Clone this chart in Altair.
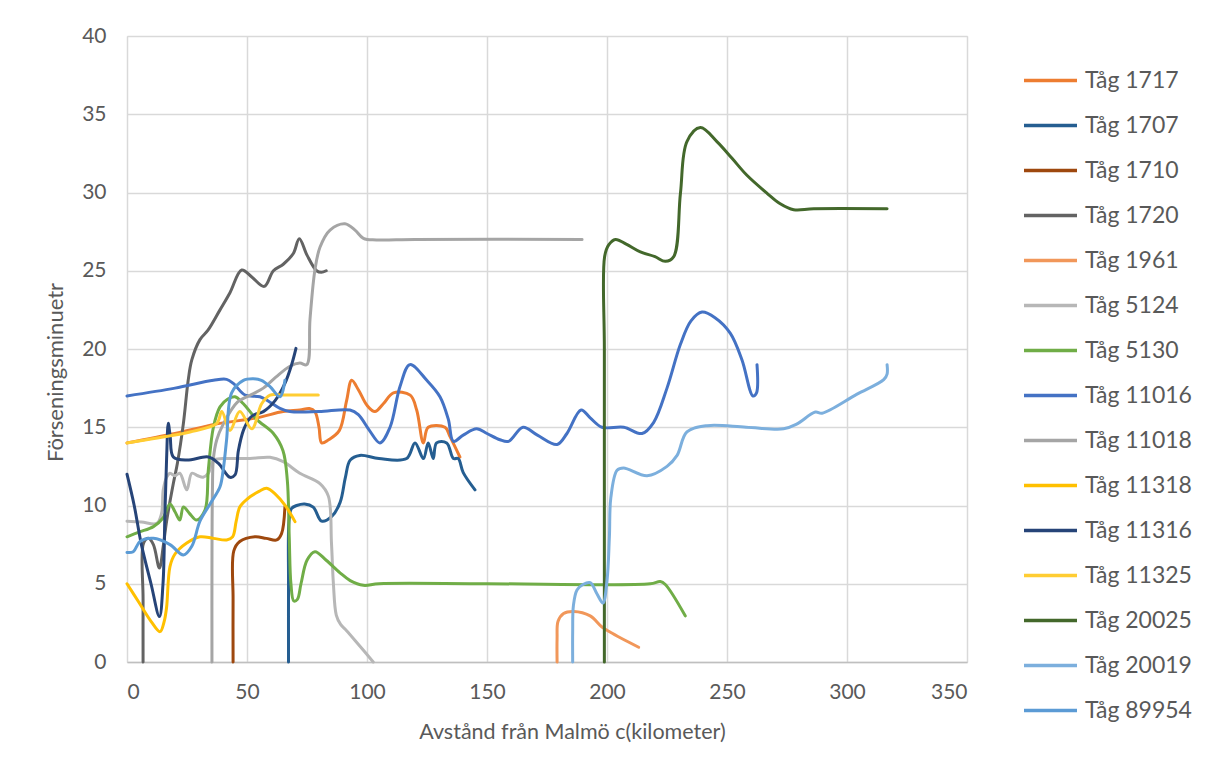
import altair as alt
import pandas as pd

# ---------------- data ----------------
series_names = ["\u00a0\u00a0Tåg 1717", "Tåg 1707", "Tåg 1710", "Tåg 1720", "Tåg 1961",
                "Tåg 5124", "Tåg 5130", "Tåg 11016", "Tåg 11018", "\u00a0\u00a0Tåg 11318",
                "Tåg 11316", "Tåg 11325", "Tåg 20025", "Tåg 20019", "Tåg 89954"]
series_colors = ["#ED7D31", "#255E91", "#9E480E", "#636363", "#F1975A",
                 "#B7B7B7", "#70AD47", "#4472C4", "#A5A5A5", "#FFC000",
                 "#264478", "#FFCD33", "#43682B", "#7CAFDD", "#5B9BD5"]

x_1717 = [0, 20, 37, 54, 65, 72, 76, 78.3, 80, 81.1, 84, 88.5, 91.5, 93.6, 96.4, 100, 103.3, 106.8, 111, 118, 120.7, 123.5, 125.5, 132.5, 134.6, 138.7]
y_1717 = [14.0, 14.6, 15.2, 15.6, 16.0, 16.1, 16.2, 16.0, 15.0, 14.0, 14.2, 14.8, 16.7, 18.0, 17.4, 16.4, 16.0, 16.5, 17.2, 17.05, 16.1, 14.0, 15.0, 15.0, 14.4, 13.1]

x_1707 = [67.3, 67.3, 67.5, 68.5, 70.7, 74, 77.6, 81.1, 85.3, 88.8, 91, 93, 97, 105, 116.5, 120, 123.5, 125.5, 127.6, 129, 133.2, 136, 138, 140.1, 145]
y_1707 = [0, 5, 9.0, 9.8, 10.0, 10.1, 9.9, 9.0, 9.3, 10.2, 11.8, 12.9, 13.2, 13.0, 13.0, 14.0, 13.0, 14.0, 13.0, 14.0, 14.0, 13.0, 13.0, 12.1, 11.0]

x_1710 = [44.2, 44.2, 44.5, 47, 53.3, 58, 62.4, 64.4, 65.8]
y_1710 = [0, 4, 7.1, 7.7, 8.0, 7.9, 7.8, 8.2, 9.9]

x_1720 = [6.7, 6.7, 6.9, 8.9, 11, 13.5, 15.1, 16.5, 19.3, 21, 23.5, 25.5, 27, 30.4, 33.75, 38.75, 42.9, 47.8, 52, 57.2, 61, 65, 69.3, 71.8, 75, 79, 81, 83]
y_1720 = [0, 4, 7.6, 7.9, 7.5, 6.0, 7.4, 9.0, 11.4, 12.7, 15.25, 18.0, 19.3, 20.6, 21.2, 22.5, 23.6, 25.05, 24.6, 24.0, 25.0, 25.4, 26.1, 27.05, 26.0, 25.0, 24.9, 25.0]

x_1961 = [179.2, 179.2, 179.6, 181.9, 186.1, 193, 197.9, 201.4, 213.2]
y_1961 = [0, 1.5, 2.6, 3.1, 3.23, 2.95, 2.24, 1.9, 0.94]

x_5124 = [0, 6, 12.4, 14.4, 15.1, 16.5, 17.9, 20, 22, 24.9, 27, 29.5, 31.7, 33.9, 36, 40, 51.25, 59.6, 65.1, 72, 80.4, 83.9, 85.2, 86.0, 87.2, 89, 91.5, 96, 102.6]
y_5124 = [9.0, 8.95, 8.86, 9.5, 11.0, 11.8, 12.06, 11.9, 12.06, 11.0, 12.06, 11.9, 11.8, 12.06, 12.9, 13.0, 13.0, 13.08, 12.8, 12.06, 11.4, 10.6, 7.6, 5.0, 3.0, 2.4, 2.0, 1.2, 0]

x_5130 = [0, 5, 11, 15, 17.9, 20, 22, 23.5, 26, 29, 32.5, 33.9, 36, 38.75, 42, 45, 48.5, 54, 61, 65, 66.8, 67.6, 68.3, 69.5, 71, 72.5, 75, 78.3, 83, 88.75, 93, 98.5, 105, 150, 218, 222.2, 224.3, 232.6]
y_5130 = [8.0, 8.3, 8.65, 9.2, 10.1, 9.6, 9.07, 9.9, 9.5, 9.07, 9.7, 12.3, 15.0, 16.3, 16.8, 16.95, 16.5, 15.5, 14.6, 13.5, 11.6, 8.0, 5.0, 3.9, 4.0, 5.0, 6.5, 7.05, 6.5, 5.7, 5.2, 4.9, 5.0, 5.0, 5.0, 5.14, 4.95, 2.95]

x_11016 = [0, 20, 36, 41.5, 44.3, 49.2, 55.4, 59.6, 63.75, 67.9, 80, 92.9, 96.4, 101, 105.4, 109.6, 113.75, 117.9, 124.9, 130.4, 133.9, 136, 140.1, 145.7, 150, 155.4, 159, 165, 171, 179.2, 183.3, 189.2, 193, 197.9, 207, 214.6, 219.4, 225, 230.6, 235, 239.6, 245, 251.4, 256.25, 260.8, 262.3, 262.5]
y_11016 = [17.0, 17.5, 18.0, 18.06, 17.8, 17.06, 16.95, 16.6, 16.2, 16.0, 16.0, 16.1, 15.8, 14.8, 14.0, 15.0, 17.6, 19.0, 18.0, 16.95, 15.5, 14.1, 14.5, 14.9, 14.6, 14.2, 14.1, 15.0, 14.5, 13.9, 14.6, 16.1, 15.6, 15.0, 15.0, 14.6, 15.3, 17.5, 20.3, 21.8, 22.36, 22.0, 21.0, 19.3, 17.0, 17.2, 19.0]

x_11018 = [35.4, 35.4, 35.6, 36, 37.4, 40.1, 46, 52, 56.8, 62, 67.9, 72, 74.9, 76.25, 78.3, 80.4, 84.6, 90.8, 95, 98.5, 104, 120, 189.6]
y_11018 = [0, 6, 11, 13.0, 14.2, 15.2, 16.6, 17.1, 17.5, 18.2, 18.9, 19.1, 19.0, 21.9, 25.05, 26.5, 27.6, 28.0, 27.6, 27.07, 26.97, 27.0, 27.0]

x_11318 = [0, 5, 10, 13.75, 15.5, 16.5, 17.9, 20, 24.9, 30.4, 36, 41.5, 44, 45.5, 47, 50, 55, 58.2, 62, 65.8, 70]
y_11318 = [5.0, 3.8, 2.6, 1.94, 2.6, 3.5, 6.1, 6.9, 7.6, 8.0, 7.9, 7.8, 8.0, 9.0, 9.9, 10.4, 10.9, 11.1, 10.7, 10.03, 8.97]

x_11316 = [0, 3, 6, 10, 13.5, 15, 15.8, 16.5, 17.2, 18, 19.3, 24.9, 33.9, 38, 42.9, 45, 46.4, 48.5, 51.25, 53, 56.8, 61.7, 65.8, 68.6, 70.4]
y_11316 = [12, 10, 7.5, 5, 2.9, 5, 9.5, 13, 15.25, 14.4, 13.1, 12.9, 13.1, 12.7, 11.8, 11.95, 13.5, 14.8, 15.6, 15.8, 16.0, 16.7, 17.8, 19.0, 20.04]

x_11325 = [0, 20, 26.25, 37.4, 39.5, 42.9, 47, 52, 56.1, 59.6, 65, 79.7]
y_11325 = [14.0, 14.5, 14.7, 15.25, 16.0, 14.8, 16.0, 14.9, 16.5, 17.06, 17.06, 17.06]

x_20025 = [198.9, 198.9, 198.9, 199, 200.7, 203.5, 208, 213.9, 220, 224.3, 227.8, 230.6, 233.3, 238.9, 245.8, 252, 258.3, 266.7, 272, 277.8, 286.1, 316.7]
y_20025 = [0, 10, 20, 25.9, 26.65, 27.0, 26.7, 26.2, 25.9, 25.6, 25.9, 29.95, 33.25, 34.15, 33.25, 32.2, 31.1, 29.95, 29.3, 28.9, 28.96, 28.96]

x_20019 = [185.7, 185.7, 186, 187.5, 190, 193, 195.8, 198.3, 200, 201, 201.6, 204.2, 206.9, 216.7, 225, 229.2, 233.3, 241.7, 258, 273.6, 279, 286.8, 289.6, 304, 315.3, 316.7, 316.7]
y_20019 = [0, 2, 3.6, 4.6, 4.95, 5.07, 4.36, 3.77, 5.2, 8, 10.5, 12.26, 12.4, 11.9, 12.5, 13.2, 14.7, 15.1, 15.0, 14.9, 15.2, 15.97, 15.9, 17.1, 18.04, 18.4, 19.0]

x_89954 = [0, 2.6, 5.4, 11, 17.9, 23.5, 27, 30.4, 34.6, 38.75, 40.1, 41.5, 43.6, 48.5, 52.6, 56, 59.6, 63.75, 65.8]
y_89954 = [7.0, 7.05, 7.7, 7.9, 7.5, 6.84, 7.4, 9.0, 10.1, 11.2, 12.3, 14.2, 17.2, 18.0, 18.1, 18.0, 17.6, 16.95, 18.0]

series_x = [x_1717, x_1707, x_1710, x_1720, x_1961, x_5124, x_5130, x_11016,
            x_11018, x_11318, x_11316, x_11325, x_20025, x_20019, x_89954]
series_y = [y_1717, y_1707, y_1710, y_1720, y_1961, y_5124, y_5130, y_11016,
            y_11018, y_11318, y_11316, y_11325, y_20025, y_20019, y_89954]

rows = []
for name, xs, ys in zip(series_names, series_x, series_y):
    for i, (xv, yv) in enumerate(zip(xs, ys)):
        rows.append({"train": name, "km": xv, "delay": yv, "i": i})
df = pd.DataFrame(rows)

FONT = "Lato"
GREY = "#595959"

chart = alt.Chart(df).mark_line(
    interpolate="catmull-rom", strokeWidth=3, strokeCap="round", strokeJoin="round"
).encode(
    x=alt.X("km:Q", scale=alt.Scale(domain=[0, 350], nice=False),
            axis=alt.Axis(values=list(range(0, 351, 50)), title="Avstånd från Malmö c(kilometer)",
                          grid=True, gridColor="#D9D9D9", gridWidth=1.5,
                          domainColor="#BFBFBF", domainWidth=1.5,
                          ticks=False, tickSize=0, labelPadding=19,
                          labelFont=FONT, labelFontSize=21, labelColor=GREY,
                          titleFont=FONT, titleFontSize=21.5, titleFontWeight="normal",
                          titleColor=GREY, titlePadding=19, titleX=445)),
    y=alt.Y("delay:Q", scale=alt.Scale(domain=[0, 40], nice=False),
            axis=alt.Axis(values=list(range(0, 41, 5)), title="Förseningsminuetr",
                          grid=True, gridColor="#D9D9D9", gridWidth=1.5,
                          domain=False, ticks=False, tickSize=0, labelPadding=21,
                          labelFont=FONT, labelFontSize=21, labelColor=GREY,
                          titleFont=FONT, titleFontSize=22, titleFontWeight="normal",
                          titleColor=GREY, titlePadding=14, titleY=336)),
    color=alt.Color("train:N", sort=series_names,
                    scale=alt.Scale(domain=series_names, range=series_colors),
                    legend=alt.Legend(orient="none", legendX=895, legendY=16, title=None,
                                      symbolType="stroke", symbolSize=2809, symbolStrokeWidth=3.5,
                                      rowPadding=4, labelOffset=6, padding=0,
                                      labelFont=FONT, labelFontSize=23, labelColor=GREY,
                                      labelLimit=300)),
    order=alt.Order("i:Q"),
).properties(
    width=840, height=626,
    autosize=alt.AutoSizeParams(type="none"),
    padding={"left": 119, "top": 28, "right": 231, "bottom": 106},
).configure_view(stroke=None).configure(background="white")

chart.save("out.html", embed_options={"renderer": "svg", "actions": False})
